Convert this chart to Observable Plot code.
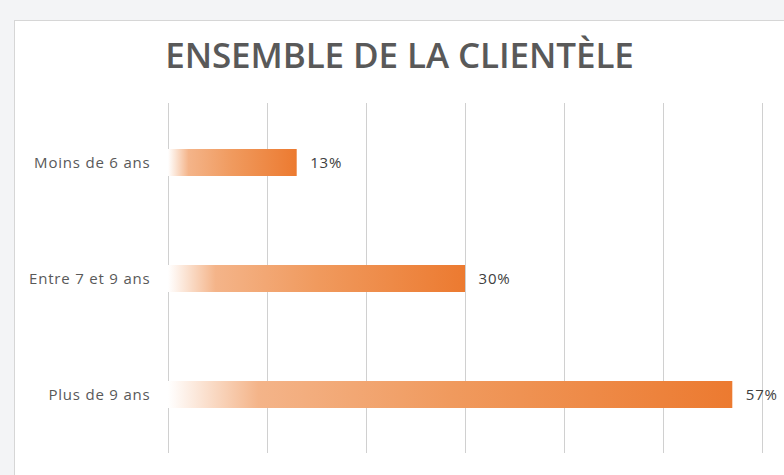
<!DOCTYPE html>
<html>
<head>
<meta charset="utf-8">
<script src="https://cdn.jsdelivr.net/npm/d3@7"></script>
<script src="https://cdn.jsdelivr.net/npm/@observablehq/plot@0.6"></script>
<style>
  html, body { margin: 0; padding: 0; width: 784px; height: 475px; overflow: hidden; background: #f3f4f6; }
  #frame { position: absolute; left: 14px; top: 20px; width: 790px; height: 470px; background: #ffffff;
           border-left: 1px solid #d6d6d6; border-top: 1px solid #d6d6d6; }
  #title { height: 68px; line-height: 68px; width: 769px; text-align: center; font-family: "Open Sans", sans-serif;
           font-weight: 600; font-size: 35px; color: #595959; letter-spacing: -0.1px; }
  #chart svg { display: block; }
</style>
</head>
<body>
<div id="frame">
  <div id="title">ENSEMBLE DE LA CLIENTÈLE</div>
  <div id="chart"></div>
</div>
<script>
const categories = ["Moins de 6 ans", "Entre 7 et 9 ans", "Plus de 9 ans"];
const values = [0.13, 0.30, 0.57];
const valueLabels = ["13%", "30%", "57%"];
const gridTicks = [0, 0.1, 0.2, 0.3, 0.4, 0.5, 0.6];

const data = categories.map((c, i) => ({cat: c, value: values[i], label: valueLabels[i]}));

const svg = Plot.plot({
  width: 769,
  height: 386,
  marginLeft: 153,
  marginRight: 22,
  marginTop: 14,
  marginBottom: 22,
  style: {fontFamily: "Open Sans, sans-serif", fontSize: "15px", color: "#595959", background: "transparent", letterSpacing: "0.8px"},
  x: {domain: [0, 0.6], axis: null},
  y: {domain: categories, paddingInner: 0.77, paddingOuter: 0.385, label: null, tickSize: 0, tickPadding: 18},
  marks: [
    Plot.ruleX(gridTicks, {stroke: "#d0d0d0", strokeWidth: 1, strokeOpacity: 1}),
    Plot.barX(data, {x: "value", y: "cat", fill: "url(#barGrad)"}),
    Plot.text(data, {x: "value", y: "cat", text: "label", dx: 13, textAnchor: "start", fill: "#404040", fontSize: 15})
  ]
});

const defs = d3.select(svg).insert("defs", ":first-child");
const g = defs.append("linearGradient").attr("id", "barGrad").attr("x1", 0).attr("x2", 1).attr("y1", 0).attr("y2", 0);
g.append("stop").attr("offset", 0).attr("stop-color", "#ffffff");
g.append("stop").attr("offset", 0.16).attr("stop-color", "#f4b489");
g.append("stop").attr("offset", 0.5).attr("stop-color", "#f09a5e");
g.append("stop").attr("offset", 1).attr("stop-color", "#ec7a30");

document.getElementById("chart").appendChild(svg);
</script>
</body>
</html>
